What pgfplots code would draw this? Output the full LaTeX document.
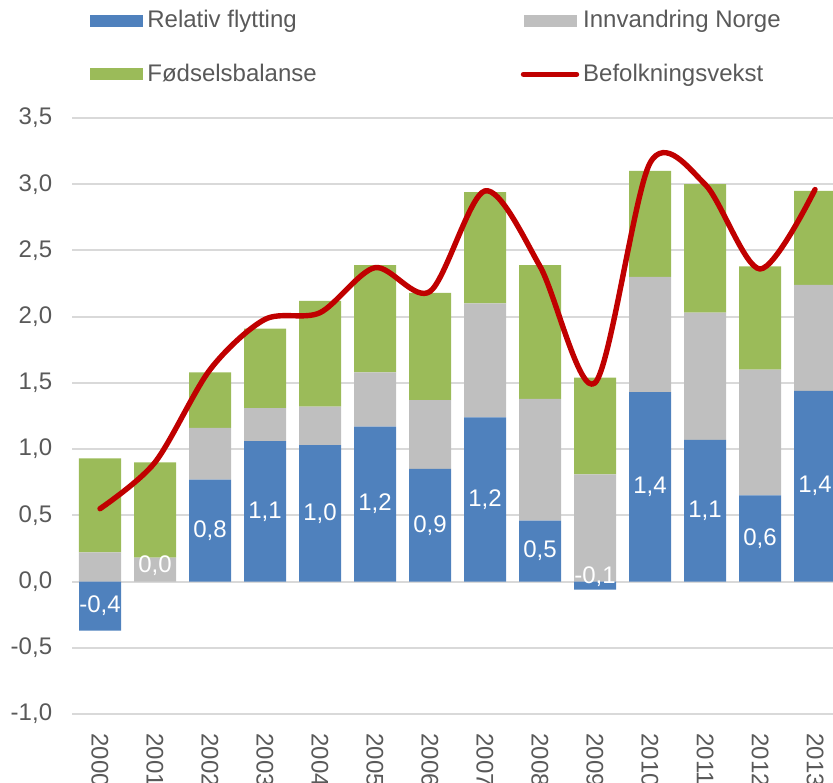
\documentclass[border=0pt]{standalone}
\usepackage{pgfplots}
\pgfplotsset{compat=1.18}
\usepackage{pgfplotstable}
\usepackage{fontspec}
\setmainfont{Liberation Sans}

\definecolor{cBlue}{HTML}{4F81BD}
\definecolor{cGray}{HTML}{BFBFBF}
\definecolor{cGreen}{HTML}{9BBB59}
\definecolor{cRed}{HTML}{C00000}
\definecolor{cGrid}{HTML}{D9D9D9}
\definecolor{cText}{HTML}{595959}

% positive parts of the stacked bars
\pgfplotstableread{
x blue gray green
0  0.00 0.22 0.71
1  0.00 0.18 0.72
2  0.77 0.39 0.42
3  1.06 0.25 0.60
4  1.03 0.29 0.80
5  1.17 0.41 0.81
6  0.85 0.52 0.81
7  1.24 0.86 0.84
8  0.46 0.92 1.01
9  0.00 0.81 0.73
10 1.43 0.87 0.80
11 1.07 0.96 0.97
12 0.65 0.95 0.78
13 1.44 0.80 0.71
}\barsdata

% negative Relativ flytting
\pgfplotstableread{
x blue
0 -0.37
9 -0.06
}\negdata

% Befolkningsvekst
\pgfplotstableread{
x y
0  0.55
1  0.90
2  1.60
3  1.98
4  2.03
5  2.37
6  2.19
7  2.95
8  2.38
9  1.50
10 3.16
11 3.00
12 2.36
13 2.96
}\linedata

% data labels of Relativ flytting (placed at the middle of the blue bar)
\pgfplotstableread{
x y lab
0  -0.185 -0,4
1  0.12   0,0
2  0.385  0,8
3  0.53   1,1
4  0.515  1,0
5  0.585  1,2
6  0.425  0,9
7  0.62   1,2
8  0.23   0,5
9  0.04   -0,1
10 0.715  1,4
11 0.535  1,1
12 0.325  0,6
13 0.72   1,4
}\labdata

\pgfplotsset{
  base/.style={
    at={(0pt,0pt)}, anchor=south west,
    scale only axis, width=385pt, height=298pt,
    xmin=-0.5, xmax=13.5, ymin=-1, ymax=3.5,
  },
  barlegend/.style={legend image code/.code={\fill[##1, draw=none] (0pt,-3pt) rectangle (26.5pt,3pt);}},
  linelegend/.style={legend image code/.code={\draw[##1] (0pt,0pt) -- (26.5pt,0pt);}},
}

\begin{document}
\begin{tikzpicture}
\useasboundingbox (-36.25pt,-34pt) rectangle (380.25pt,357pt);
\clip (-36.25pt,-34pt) rectangle (380.25pt,357pt);
\begin{axis}[base,
  ybar stacked, bar width=21pt,
  axis line style={draw=none},
  major tick length=0pt,
  ytick={-1,-0.5,0,0.5,1,1.5,2,2.5,3,3.5},
  ymajorgrids, grid style={cGrid, line width=1pt},
  xtick={0,1,...,13},
  xticklabels={2000,2001,2002,2003,2004,2005,2006,2007,2008,2009,2010,2011,2012,2013},
  tick label style={font=\fontsize{12}{14}\selectfont, text=cText},
  /pgf/number format/assume math mode=true,
  yticklabel style={/pgf/number format/.cd, use comma, fixed, fixed zerofill, precision=1, /tikz/.cd, anchor=east, inner sep=0pt},
  xticklabel style={rotate=-90, anchor=west, inner sep=0pt},
  xticklabel shift=9.5pt, yticklabel shift=10pt,
]
\addplot[fill=cBlue, draw=none] table[x=x, y=blue] {\barsdata};
\addplot[fill=cGray, draw=none] table[x=x, y=gray] {\barsdata};
\addplot[fill=cGreen, draw=none] table[x=x, y=green] {\barsdata};
\end{axis}

\begin{axis}[base, hide axis,
  legend columns=2,
  legend cell align=left,
  legend style={at={(axis description cs:0.0227,1.188)}, anchor=north west,
    draw=none, fill=none, inner sep=0pt, row sep=12.7pt,
    font=\fontsize{12}{14}\selectfont, text=cText,
    nodes={inner sep=2pt},
    /tikz/every even column/.append style={column sep=100pt}},
]
\addlegendimage{barlegend, fill=cBlue}
\addlegendentry{Relativ flytting}
\addlegendimage{barlegend, fill=cGray}
\addlegendentry{Innvandring Norge}
\addlegendimage{barlegend, fill=cGreen}
\addlegendentry{Fødselsbalanse}
\addplot[ybar, bar width=21pt, fill=cBlue, draw=none, forget plot] table[x=x, y=blue] {\negdata};
\addplot[cRed, line width=2.7pt, smooth, line cap=round, line join=round, linelegend] table[x=x, y=y] {\linedata};
\addlegendentry{Befolkningsvekst}
\addplot[draw=none, forget plot, nodes near coords, point meta=explicit symbolic,
  nodes near coords style={anchor=center, text=white, font=\fontsize{12}{14}\selectfont}]
  table[x=x, y=y, meta=lab] {\labdata};
\end{axis}
\end{tikzpicture}
\end{document}
